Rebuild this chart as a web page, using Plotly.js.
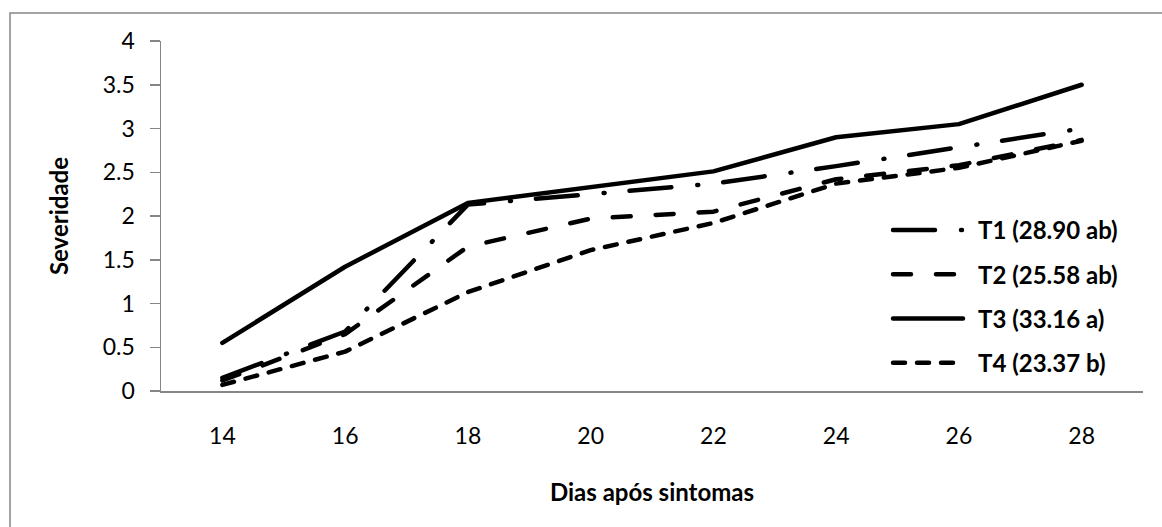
<!DOCTYPE html>
<html>
<head>
<meta charset="utf-8">
<script src="https://cdn.plot.ly/plotly-3.0.1.min.js"></script>
<style>
  html, body { margin: 0; padding: 0; background: #ffffff; }
  #chart { width: 1162px; height: 527px; }
  .scatterlayer .js-line, .legendlines .js-line { stroke-linecap: round; stroke-linejoin: round; }
</style>
</head>
<body>
<div id="chart"></div>
<script>
// Data
var dias = ['14', '16', '18', '20', '22', '24', '26', '28'];
var seriesNames = ['T1 (28.90 ab)', 'T2 (25.58 ab)', 'T3 (33.16 a)', 'T4 (23.37 b)'];
var t1 = [0.15, 0.68, 2.13, 2.25, 2.37, 2.57, 2.79, 3.00];
var t2 = [0.12, 0.65, 1.65, 1.97, 2.05, 2.42, 2.58, 2.87];
var t3 = [0.55, 1.42, 2.15, 2.33, 2.51, 2.90, 3.05, 3.50];
var t4 = [0.07, 0.45, 1.13, 1.61, 1.92, 2.37, 2.55, 2.86];
var xTitle = 'Dias após sintomas';
var yTitle = 'Severidade';

var FONT = 'Lato, "Open Sans", sans-serif';
var AXIS_GREY = '#868686';
var LW = 4.5;

var dashes = ['42px,26px,1px,25px', '18px,25px', 'solid', '12px,12px'];
var values = [t1, t2, t3, t4];

var traces = values.map(function (v, i) {
  return {
    type: 'scatter',
    mode: 'lines',
    x: dias,
    y: v,
    name: seriesNames[i],
    legendgroup: 'g' + i,
    line: { color: '#000000', width: LW, dash: dashes[i] },
    hoverinfo: 'x+y+name'
  };
});

var plotL = 161, plotR = 1143, plotT = 41, plotB = 391;
var pw = plotR - plotL, ph = plotB - plotT;

var layout = {
  width: 1162,
  height: 527,
  margin: { l: plotL, r: 1162 - plotR, t: plotT, b: 527 - plotB, pad: 0 },
  paper_bgcolor: '#ffffff',
  plot_bgcolor: '#ffffff',
  font: { family: FONT, size: 23, color: '#000000' },
  showlegend: true,
  legend: {
    x: (888 - plotL) / pw,
    xanchor: 'left',
    y: (plotB - 208) / ph,
    yanchor: 'top',
    bgcolor: 'rgba(0,0,0,0)',
    borderwidth: 0,
    font: { family: FONT, size: 24, color: '#000000', weight: 'bold' },
    itemwidth: 80,
    tracegroupgap: 10,
    traceorder: 'grouped'
  },
  xaxis: {
    type: 'category',
    range: [-0.5, dias.length - 0.5],
    showline: true,
    linecolor: AXIS_GREY,
    linewidth: 1.5,
    ticks: '',
    showgrid: false,
    zeroline: false,
    ticklabelstandoff: 24,
    tickfont: { family: FONT, size: 23, color: '#000000' },
    title: { text: xTitle, font: { family: FONT, size: 24, color: '#000000', weight: 'bold' }, standoff: 36 }
  },
  yaxis: {
    range: [0, 4],
    dtick: 0.5,
    tick0: 0,
    showline: true,
    linecolor: AXIS_GREY,
    linewidth: 1.5,
    ticks: 'outside',
    ticklen: 10,
    tickwidth: 1.5,
    tickcolor: AXIS_GREY,
    showgrid: false,
    zeroline: false,
    ticklabelstandoff: 10,
    tickfont: { family: FONT, size: 23, color: '#000000' },
    title: { text: yTitle, font: { family: FONT, size: 24, color: '#000000', weight: 'bold' }, standoff: 27 }
  },
  shapes: [
    {
      type: 'rect', xref: 'paper', yref: 'paper', layer: 'below',
      x0: (10 - plotL) / pw, x1: 1.5,
      y0: -1.0, y1: (plotB - 13) / ph,
      line: { color: AXIS_GREY, width: 1.5 },
      fillcolor: 'rgba(0,0,0,0)'
    }
  ]
};

Plotly.newPlot('chart', traces, layout, { displayModeBar: false, staticPlot: true }).then(function (gd) {
  var paths = gd.querySelectorAll('.legendlines path.js-line');
  paths.forEach(function (p) { p.setAttribute('d', 'M5,0h70'); });
});
</script>
</body>
</html>
